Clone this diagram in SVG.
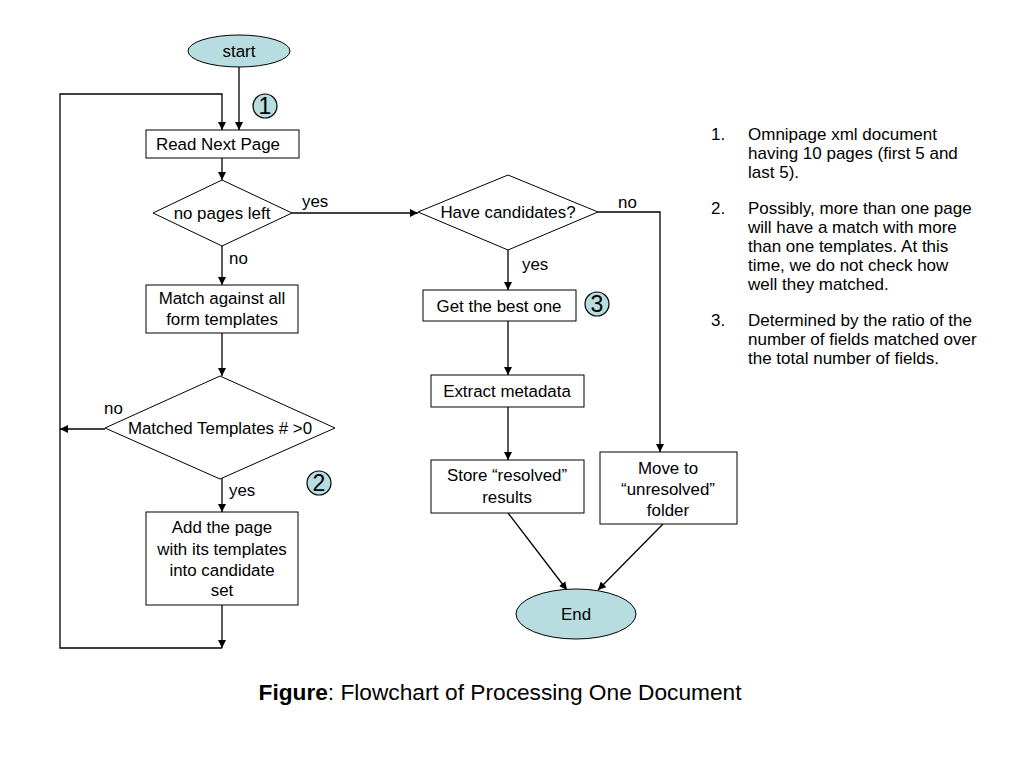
<svg xmlns="http://www.w3.org/2000/svg" width="1024" height="768" viewBox="0 0 1024 768">
<style>
text{font-family:"Liberation Sans",Arial,sans-serif;fill:#000}
.n{font-size:16.9px;text-anchor:middle}
.l{font-size:16.9px}
.box{fill:#fff;stroke:#000;stroke-width:1}
.term{fill:#b7dde0;stroke:#000;stroke-width:1}
.ln{fill:none;stroke:#000;stroke-width:1.3}
.num{fill:#b7dde0;stroke:#000;stroke-width:1.2}
.nt{font-size:23px;text-anchor:middle}
.note{font-size:17px}
</style>
<defs>
<marker id="ah" viewBox="0 0 10 10" refX="10" refY="5" markerWidth="8" markerHeight="8" markerUnits="userSpaceOnUse" orient="auto">
<path d="M0,0L10,5L0,10z" fill="#000"/>
</marker>
</defs>
<rect width="1024" height="768" fill="#fff"/>
<g id="connectors">
<path class="ln" d="M239,67V130" marker-end="url(#ah)"/>
<path class="ln" d="M222,648H60V94H222V130" marker-end="url(#ah)"/>
<path class="ln" d="M222,158V180" marker-end="url(#ah)"/>
<path class="ln" d="M292,213H418" marker-end="url(#ah)"/>
<path class="ln" d="M598,212H660V452" marker-end="url(#ah)"/>
<path class="ln" d="M508,250V290" marker-end="url(#ah)"/>
<path class="ln" d="M508,321V375" marker-end="url(#ah)"/>
<path class="ln" d="M508,407V460" marker-end="url(#ah)"/>
<path class="ln" d="M508,513L567,590" marker-end="url(#ah)"/>
<path class="ln" d="M663,524L598,590" marker-end="url(#ah)"/>
<path class="ln" d="M222,246V285" marker-end="url(#ah)"/>
<path class="ln" d="M222,333V376" marker-end="url(#ah)"/>
<path class="ln" d="M105,429H60" marker-end="url(#ah)"/>
<path class="ln" d="M222,478V512" marker-end="url(#ah)"/>
<path class="ln" d="M222,605V648" marker-end="url(#ah)"/>
<text class="l" x="302" y="207">yes</text>
<text class="l" x="618" y="208">no</text>
<text class="l" x="522" y="270">yes</text>
<text class="l" x="229" y="264">no</text>
<text class="l" x="104" y="414">no</text>
<text class="l" x="229" y="496">yes</text>
</g>
<g id="start"><ellipse class="term" cx="239" cy="51" rx="51" ry="16"/><text class="n" x="239" y="57">start</text></g>
<g id="m1"><circle class="num" cx="265" cy="106" r="12"/><text class="nt" x="265" y="114">1</text></g>
<g id="read"><rect class="box" x="146" y="130" width="153" height="28"/><text class="n" x="218" y="150">Read Next Page</text></g>
<g id="nopages"><polygon class="box" points="222,180 292,213 222,246 153,213"/><text class="n" x="222" y="219">no pages left</text></g>
<g id="match"><rect class="box" x="146" y="285" width="152" height="48"/><text class="n" x="222" y="304">Match against all</text><text class="n" x="222" y="325">form templates</text></g>
<g id="matched"><polygon class="box" points="220,376 335,428 220,479 105,428"/><text class="n" x="220" y="434">Matched Templates # &gt;0</text></g>
<g id="m2"><circle class="num" cx="319" cy="483" r="12"/><text class="nt" x="319" y="491">2</text></g>
<g id="add"><rect class="box" x="146" y="512" width="152" height="93"/><text class="n" x="222" y="533">Add the page</text><text class="n" x="222" y="555">with its templates</text><text class="n" x="222" y="576">into candidate</text><text class="n" x="222" y="596">set</text></g>
<g id="have"><polygon class="box" points="508,175 598,212 508,250 418,212"/><text class="n" x="508" y="218">Have candidates?</text></g>
<g id="best"><rect class="box" x="423" y="290" width="153" height="31"/><text class="n" x="499" y="312">Get the best one</text></g>
<g id="m3"><circle class="num" cx="597" cy="304" r="12"/><text class="nt" x="597" y="312">3</text></g>
<g id="extract"><rect class="box" x="431" y="375" width="153" height="32"/><text class="n" x="507" y="397">Extract metadata</text></g>
<g id="store"><rect class="box" x="431" y="460" width="153" height="53"/><text class="n" x="507" y="481">Store “resolved”</text><text class="n" x="507" y="503">results</text></g>
<g id="move"><rect class="box" x="600" y="452" width="137" height="72"/><text class="n" x="668" y="474">Move to</text><text class="n" x="668" y="495">“unresolved”</text><text class="n" x="668" y="516">folder</text></g>
<g id="end"><ellipse class="term" cx="576" cy="614" rx="60" ry="25"/><text class="n" x="576" y="620">End</text></g>
<g id="notes">
<text class="note" x="711" y="140">1.</text>
<text class="note" x="748" y="140">Omnipage xml document</text>
<text class="note" x="748" y="159">having 10 pages (first 5 and</text>
<text class="note" x="748" y="178">last 5).</text>
<text class="note" x="711" y="214">2.</text>
<text class="note" x="748" y="214">Possibly, more than one page</text>
<text class="note" x="748" y="233">will have a match with more</text>
<text class="note" x="748" y="252">than one templates. At this</text>
<text class="note" x="748" y="271">time, we do not check how</text>
<text class="note" x="748" y="290">well they matched.</text>
<text class="note" x="711" y="326">3.</text>
<text class="note" x="748" y="326">Determined by the ratio of the</text>
<text class="note" x="748" y="345">number of fields matched over</text>
<text class="note" x="748" y="364">the total number of fields.</text>
</g>
<g id="caption"><text x="500" y="700" style="font-size:22.7px;text-anchor:middle"><tspan font-weight="bold">Figure</tspan>: Flowchart of Processing One Document</text></g>
</svg>
